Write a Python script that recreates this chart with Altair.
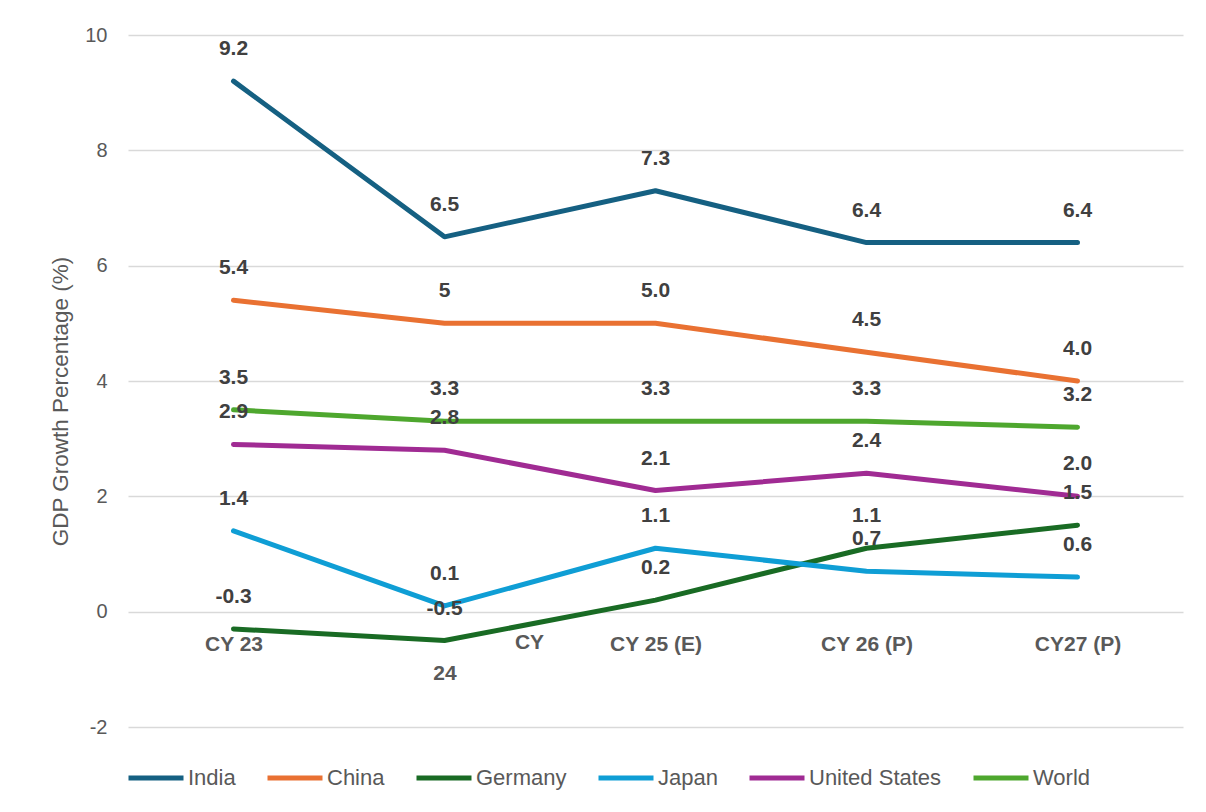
import altair as alt
import pandas as pd

periods = ["CY 23", "CY 24", "CY 25 (E)", "CY 26 (P)", "CY27 (P)"]
series = ["India", "China", "Germany", "Japan", "United States", "World"]
colors = ["#156082", "#E97132", "#196B24", "#0F9ED5", "#A02B93", "#4EA72E"]

india = [9.2, 6.5, 7.3, 6.4, 6.4]
china = [5.4, 5.0, 5.0, 4.5, 4.0]
germany = [-0.3, -0.5, 0.2, 1.1, 1.5]
japan = [1.4, 0.1, 1.1, 0.7, 0.6]
united_states = [2.9, 2.8, 2.1, 2.4, 2.0]
world = [3.5, 3.3, 3.3, 3.3, 3.2]

india_lbl = ["9.2", "6.5", "7.3", "6.4", "6.4"]
china_lbl = ["5.4", "5", "5.0", "4.5", "4.0"]
germany_lbl = ["-0.3", "-0.5", "0.2", "1.1", "1.5"]
japan_lbl = ["1.4", "0.1", "1.1", "0.7", "0.6"]
us_lbl = ["2.9", "2.8", "2.1", "2.4", "2.0"]
world_lbl = ["3.5", "3.3", "3.3", "3.3", "3.2"]

y_ticks = [-2, 0, 2, 4, 6, 8, 10]

values = [india, china, germany, japan, united_states, world]
labels = [india_lbl, china_lbl, germany_lbl, japan_lbl, us_lbl, world_lbl]

rows = []
for si, (s, vals, lbls) in enumerate(zip(series, values, labels)):
    for p, v, l in zip(periods, vals, lbls):
        rows.append({"Series": s, "Period": p, "Value": v, "Label": l, "k": si})
df = pd.DataFrame(rows)

FONT = "Liberation Sans"

x_enc = alt.X(
    "Period:N",
    sort=periods,
    scale=alt.Scale(type="point", padding=0.5),
    axis=alt.Axis(
        title=None,
        grid=False,
        domain=False,
        ticks=False,
        labelAngle=0,
        labelFont=FONT,
        labelFontSize=21,
        labelFontWeight="bold",
        labelColor="#595959",
        labelBaseline="top",
        labelPadding=22,
        labelLineHeight=29,
        labelExpr="datum.value == 'CY 24' ? ['', '24'] : datum.value",
        offset=-115.3,
    ),
)
y_enc = alt.Y(
    "Value:Q",
    scale=alt.Scale(domain=[-2, 10], nice=False, zero=False),
    axis=alt.Axis(
        values=y_ticks,
        labelExpr="'' + datum.value",
        title="GDP Growth Percentage (%)",
        titleFont=FONT,
        titleFontSize=22.5,
        titleFontWeight="normal",
        titleColor="#595959",
        titleX=-68,
        titleY=366,
        titleAngle=-90,
        titleAlign="center",
        titleBaseline="middle",
        labelFont=FONT,
        labelFontSize=20,
        labelColor="#595959",
        labelPadding=21,
        domain=False,
        ticks=False,
        grid=True,
        gridColor="#d9d9d9",
        gridWidth=1.5,
    ),
)
color_enc = alt.Color(
    "Series:N",
    sort=series,
    scale=alt.Scale(domain=series, range=colors),
    legend=alt.Legend(
        title=None,
        orient="none",
        legendX=-2,
        legendY=713,
        direction="horizontal",
        columns=6,
        columnPadding=21,
        symbolType="stroke",
        symbolSize=3025,
        symbolStrokeWidth=5,
        labelFont=FONT,
        labelFontSize=22,
        labelColor="#595959",
        labelOffset=2,
        padding=0,
    ),
)

lines = alt.Chart(df).mark_line(strokeWidth=5, strokeCap="round", strokeJoin="round").encode(
    x=x_enc, y=y_enc, color=color_enc, order=alt.Order("k:Q")
)

texts = alt.Chart(df).mark_text(
    font=FONT, fontSize=21, fontWeight="bold", color="#404040", dy=-32, baseline="middle"
).encode(x=alt.X("Period:N", sort=periods), y=alt.Y("Value:Q"), text="Label:N")

extra_df = pd.DataFrame({"Period": ["CY 24"], "Value": [0.0], "Label": ["CY"]})
extra = alt.Chart(extra_df).mark_text(
    font=FONT, fontSize=21, fontWeight="bold", color="#595959", dx=85, dy=31, baseline="middle"
).encode(x=alt.X("Period:N", sort=periods), y=alt.Y("Value:Q"), text="Label:N")

chart = (
    alt.layer(lines, texts, extra)
    .properties(
        width=1055,
        height=692,
        autosize=alt.AutoSizeParams(type="none"),
        padding={"left": 128, "top": 35, "right": 23, "bottom": 85},
        background="white",
    )
    .configure_view(stroke=None)
)

chart.save("out.html", embed_options={"renderer": "svg", "actions": False})
